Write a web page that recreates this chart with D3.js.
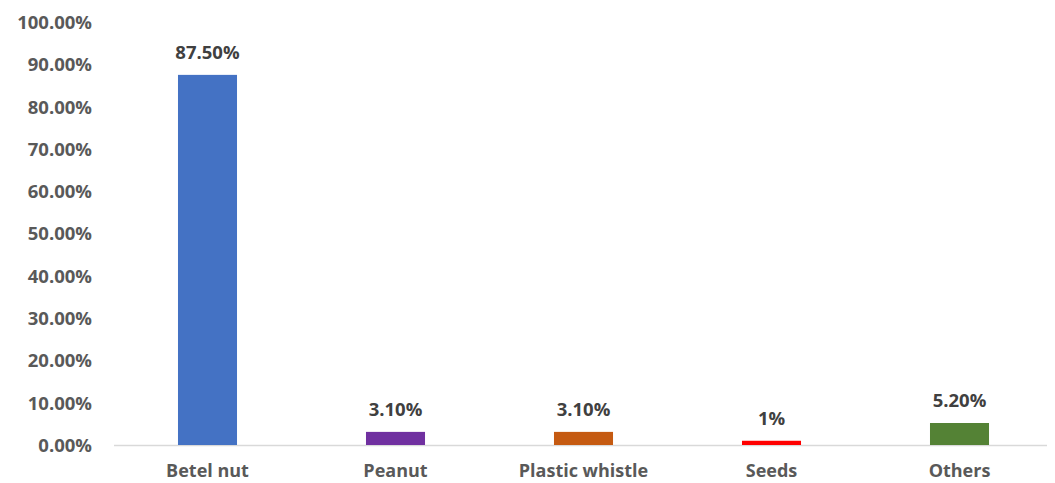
<!DOCTYPE html>
<html><head><meta charset="utf-8">
<script src="https://cdn.jsdelivr.net/npm/d3@7"></script>
<style>body{margin:0;background:#fff;}svg{display:block;}</style>
</head><body>
<svg id="chart" width="1055" height="483"></svg>
<script>
const categories = ["Betel nut","Peanut","Plastic whistle","Seeds","Others"];
const values = [87.5, 3.1, 3.1, 1, 5.2];
const valueLabels = ["87.50%","3.10%","3.10%","1%","5.20%"];
const colors = ["#4472C4","#7030A0","#C55A11","#FF0000","#548235"];
const yTicks = [0,10,20,30,40,50,60,70,80,90,100];

const svg = d3.select("#chart");
const font = "'Open Sans', sans-serif";
const textColor = "#595959";
const x = d3.scaleBand().domain(categories).range([113.5,1053.5]).paddingInner(0.686).paddingOuter(0.343);
const y = d3.scaleLinear().domain([0,100]).range([445,22]);

const yAxis = d3.axisLeft(y).tickValues(yTicks).tickSize(0).tickPadding(0).tickFormat(d=>d.toFixed(2)+"%");
const gy = svg.append("g").attr("transform","translate(92,0)").call(yAxis);
gy.select(".domain").remove();
gy.selectAll("text").attr("font-family",font).attr("font-weight","bold").attr("font-size",18.5).attr("fill",textColor).attr("dy","0.35em");

svg.append("line").attr("x1",114).attr("x2",1047).attr("y1",y(0)+0.5).attr("y2",y(0)+0.5).attr("stroke","#D9D9D9").attr("stroke-width",1.3);

svg.selectAll("rect.bar").data(categories).enter().append("rect").attr("class","bar")
  .attr("x",d=>x(d)).attr("width",x.bandwidth())
  .attr("y",(d,i)=>y(values[i])).attr("height",(d,i)=>y(0)-y(values[i]))
  .attr("fill",(d,i)=>colors[i]);

svg.selectAll("text.val").data(categories).enter().append("text").attr("class","val")
  .attr("x",d=>x(d)+x.bandwidth()/2).attr("y",(d,i)=>y(values[i])-16)
  .attr("text-anchor","middle").attr("font-family",font).attr("font-weight","bold").attr("font-size",18.5).attr("fill","#404040")
  .text((d,i)=>valueLabels[i]);

const xAxis = d3.axisBottom(x).tickSize(0).tickPadding(0);
const gx = svg.append("g").attr("transform","translate(0,"+y(0)+")").call(xAxis);
gx.select(".domain").remove();
gx.selectAll("text").attr("font-family",font).attr("font-weight","bold").attr("font-size",18).attr("fill",textColor).attr("dy",0).attr("y",32);
</script>
</body></html>
